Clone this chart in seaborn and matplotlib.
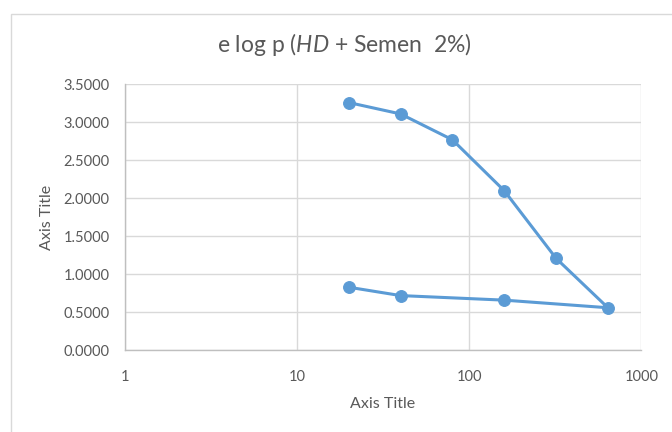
import matplotlib
matplotlib.use("Agg")
import matplotlib.pyplot as plt
import matplotlib.ticker as mticker
from matplotlib.patches import Rectangle
import pandas as pd
import seaborn as sns

# loading then unloading path (p, e)
presion = [20, 40, 80, 160, 320, 640, 160, 40, 20]
e_vacios = [3.26, 3.11, 2.77, 2.10, 1.21, 0.56, 0.66, 0.72, 0.83]
xticks = [1, 10, 100, 1000]
yticks = [0.0, 0.5, 1.0, 1.5, 2.0, 2.5, 3.0, 3.5]

df = pd.DataFrame({"p": presion, "e": e_vacios})

sns.set_style("white")
plt.rcParams["font.family"] = ["Lato", "DejaVu Sans"]
plt.rcParams["mathtext.fontset"] = "custom"
plt.rcParams["mathtext.rm"] = "Lato"
plt.rcParams["mathtext.it"] = "Lato:italic"

gris = "#595959"
azul = "#5B9BD5"

fig = plt.figure(figsize=(6.72, 4.32), dpi=100)
# chart area border (cut off at right and bottom)
fig.patches.append(Rectangle((11 / 672, -0.1), 1.2, 1 - 14 / 432 + 0.1,
                             transform=fig.transFigure, fill=False,
                             edgecolor="#d9d9d9", linewidth=1))
ax = fig.add_axes([124.7 / 672, 1 - 350.3 / 432, 516.6 / 672, 266 / 432])

sns.lineplot(data=df, x="p", y="e", sort=False, estimator=None, ax=ax,
             color=azul, linewidth=2.2, marker="o", markersize=8.5,
             markeredgecolor=azul)

ax.set_xscale("log")
ax.set_xlim(1, 1000)
ax.set_ylim(0, 3.5)
ax.set_xticks(xticks)
ax.xaxis.set_major_formatter(mticker.FuncFormatter(lambda v, p: f"{v:g}"))
ax.xaxis.set_minor_locator(mticker.NullLocator())
ax.set_yticks(yticks)
ax.yaxis.set_major_formatter(mticker.FormatStrFormatter("%.4f"))
ax.grid(True, color="#d9d9d9", linewidth=1)
ax.tick_params(axis="x", length=0, pad=14, labelsize=10.5, labelcolor=gris)
ax.tick_params(axis="y", length=0, pad=11, labelsize=10.5, labelcolor=gris)
for s in ["top", "right"]:
    ax.spines[s].set_visible(False)
for s in ["left", "bottom"]:
    ax.spines[s].set_color("#bfbfbf")
    ax.spines[s].set_linewidth(1)
ax.set_xlabel("")
ax.set_ylabel("")

fig.text(344 / 672, 1 - 45 / 432, r"e log p ($\mathit{HD}$ + Semen  2%)",
         ha="center", va="center", fontsize=16.5, color=gris)
fig.text(383 / 672, 1 - 404 / 432, "Axis Title", ha="center", va="center",
         fontsize=11.5, color=gris)
fig.text(47 / 672, 1 - 217 / 432, "Axis Title", ha="center", va="center",
         rotation=90, fontsize=11.5, color=gris)

fig.savefig("out.png", dpi=100)
